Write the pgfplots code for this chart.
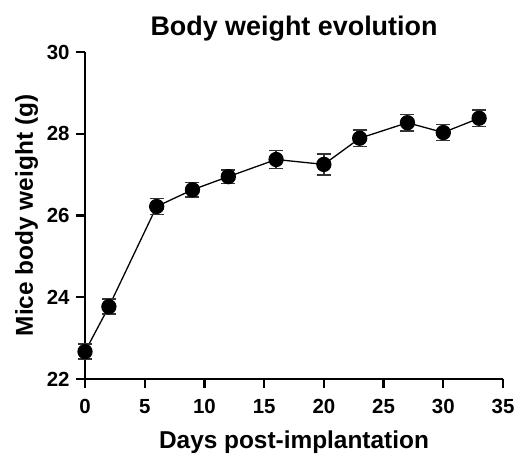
\documentclass[border=0pt]{standalone}
\usepackage{pgfplots}
\pgfplotsset{compat=1.18}
\usepackage{fontspec}
\setmainfont{Liberation Sans}

\pgfplotstableread{
day  w      err
0    22.67  0.18
2    23.77  0.18
6    26.22  0.20
9    26.63  0.18
12   26.95  0.17
16   27.37  0.22
20   27.25  0.26
23   27.89  0.20
27   28.27  0.20
30   28.03  0.20
33   28.38  0.20
}\bodyweight

\begin{document}
\begin{tikzpicture}
\begin{axis}[
    at={(85bp,78bp)}, anchor=south west,
    scale only axis,
    width=418bp, height=327bp,
    xmin=0, xmax=35, ymin=22, ymax=30,
    xtick={0,5,...,35}, ytick={22,24,...,30},
    axis x line=bottom, axis y line=left,
    axis line style={line width=2.2pt, -},
    tick style={line width=2.2pt, black},
    tick align=outside, major tick length=9bp,
    minor tick num=0,
    tick label style={font=\bfseries\fontsize{20.5}{22}\selectfont},
    /pgf/number format/assume math mode=true,
    xticklabel style={yshift=-8bp},
    yticklabel style={xshift=-3bp},
    title={\bfseries Body weight evolution},
    title style={font=\bfseries\fontsize{27}{30}\selectfont, yshift=1bp},
    xlabel={Days post-implantation},
    ylabel={Mice body weight (g)},
    label style={font=\bfseries\fontsize{24.5}{27}\selectfont},
    xlabel style={yshift=-10bp},
    ylabel style={yshift=2bp},
    clip=false,
]
\addplot[black, line width=1.3pt, mark=*, mark size=7bp,
    mark options={solid, fill=black},
    error bars/.cd, y dir=both, y explicit,
    error bar style={line width=1.6pt, black!80},
    error mark options={rotate=90, mark size=7bp, line width=1.6pt, black!80}]
    table[x=day, y=w, y error=err] {\bodyweight};
\end{axis}
\pgfresetboundingbox
\path[use as bounding box] (0,0) rectangle (517bp,457bp);
\end{tikzpicture}
\end{document}
